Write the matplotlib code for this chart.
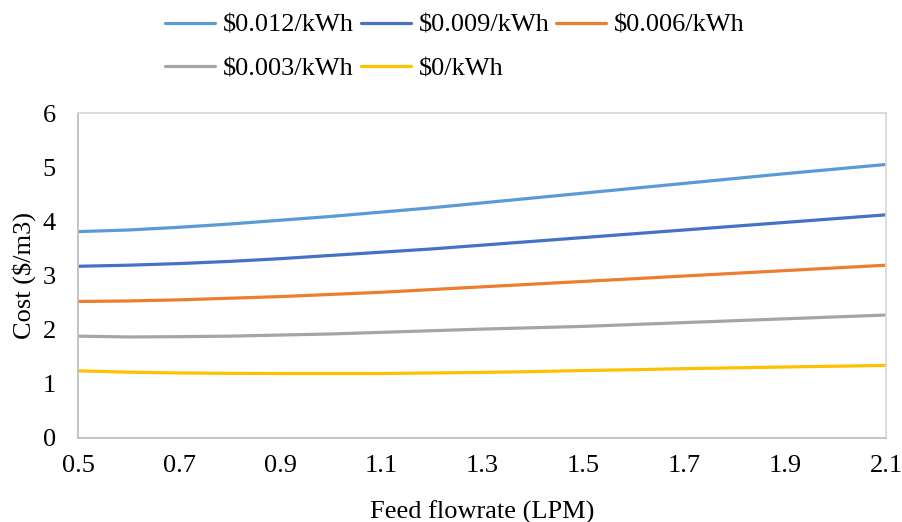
import matplotlib
matplotlib.use("Agg")
from matplotlib import pyplot as plt

# Feed flowrate (LPM) and cost ($/m3)
flowrate = [0.5, 0.6, 0.7, 0.8, 0.9, 1.0, 1.1, 1.2, 1.3, 1.4, 1.5, 1.6, 1.7, 1.8, 1.9, 2.0, 2.1]
cost_012 = [3.81, 3.84, 3.89, 3.95, 4.02, 4.09, 4.17, 4.25, 4.34, 4.43, 4.52, 4.61, 4.70, 4.79, 4.88, 4.965, 5.05]
cost_009 = [3.17, 3.19, 3.22, 3.26, 3.31, 3.37, 3.43, 3.49, 3.56, 3.63, 3.70, 3.77, 3.84, 3.91, 3.98, 4.05, 4.12]
cost_006 = [2.52, 2.53, 2.55, 2.58, 2.61, 2.65, 2.69, 2.74, 2.79, 2.84, 2.89, 2.94, 2.99, 3.04, 3.09, 3.14, 3.19]
cost_003 = [1.88, 1.865, 1.87, 1.88, 1.90, 1.92, 1.95, 1.98, 2.01, 2.035, 2.06, 2.095, 2.13, 2.165, 2.20, 2.235, 2.27]
cost_000 = [1.24, 1.215, 1.20, 1.193, 1.19, 1.19, 1.19, 1.20, 1.21, 1.225, 1.245, 1.26, 1.28, 1.295, 1.31, 1.325, 1.34]

labels = [r"\$0.012/kWh", r"\$0.009/kWh", r"\$0.006/kWh", r"\$0.003/kWh", r"\$0/kWh"]
colors = ["#5B9BD5", "#4472C4", "#ED7D31", "#A5A5A5", "#FFC000"]
x_ticks = [0.5, 0.7, 0.9, 1.1, 1.3, 1.5, 1.7, 1.9, 2.1]
y_ticks = [0, 1, 2, 3, 4, 5, 6]

plt.rcParams["font.family"] = ["Liberation Serif", "DejaVu Serif"]
plt.rcParams["font.size"] = 19

fig = plt.figure(figsize=(9.03, 5.22), dpi=100)
ax = fig.add_axes([0.0864, 0.161, 0.8948, 0.6225])

series = [cost_012, cost_009, cost_006, cost_003, cost_000]
handles = []
for vals, lab, col in zip(series, labels, colors):
    line, = ax.plot(flowrate, vals, color=col, linewidth=2.3, label=lab, solid_capstyle="round")
    handles.append(line)

ax.set_xlim(0.5, 2.1)
ax.set_ylim(0, 6)
ax.set_xticks(x_ticks)
ax.set_xticklabels([f"{t:.1f}" for t in x_ticks])
ax.set_yticks(y_ticks)
ax.tick_params(axis="x", length=0, pad=12)
ax.tick_params(axis="y", length=0, pad=16)
for side in ["left", "bottom"]:
    ax.spines[side].set_color("#BFBFBF")
    ax.spines[side].set_linewidth(1.3)
for side in ["right", "top"]:
    ax.spines[side].set_color("#D9D9D9")
    ax.spines[side].set_linewidth(1.3)

ax.set_xlabel("Feed flowrate (LPM)", labelpad=17)
ax.set_ylabel(r"Cost (\$/m3)", labelpad=5)

# legend fills column by column, so reorder to read row by row
order = [0, 3, 1, 4, 2]
fig.legend([handles[i] for i in order], [labels[i] for i in order],
           loc="upper center", bbox_to_anchor=(0.504, 1.02), ncol=3, frameon=False,
           handlelength=1.9, handletextpad=0.3, columnspacing=0.25, labelspacing=0.75)

fig.savefig("out.png", dpi=100)
